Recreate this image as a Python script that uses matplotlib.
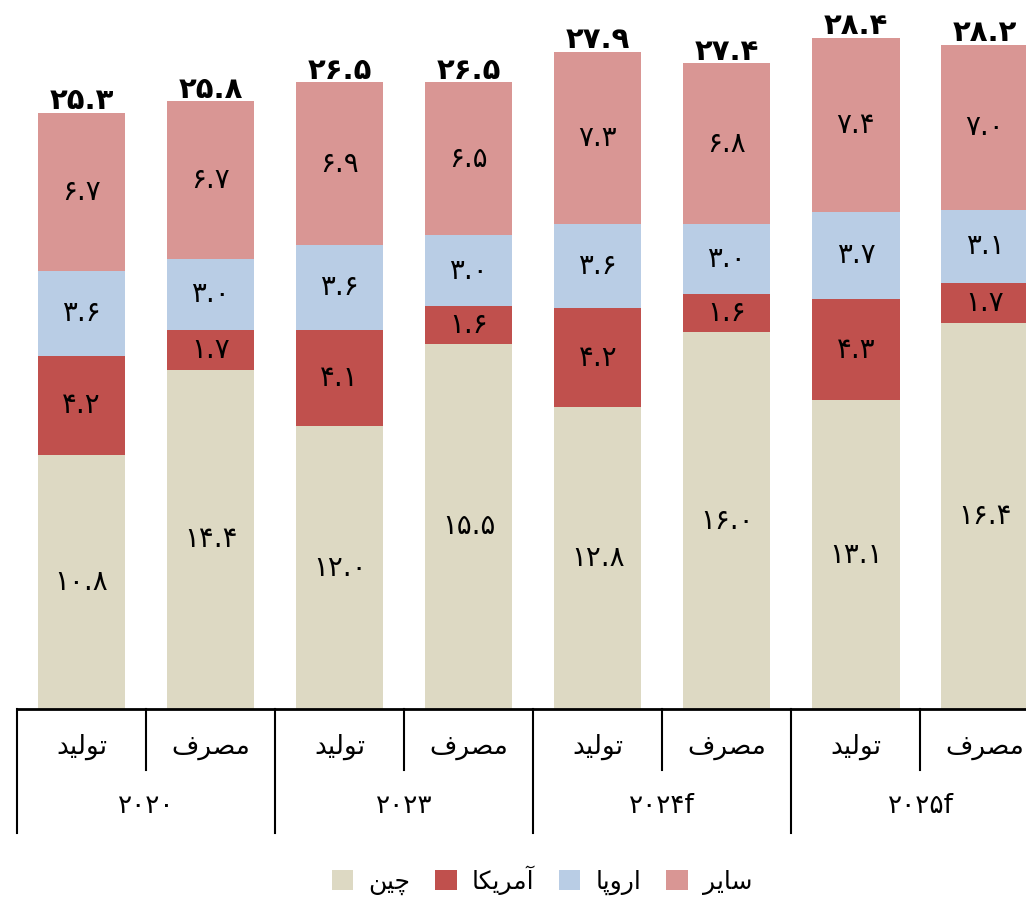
import matplotlib
matplotlib.use("Agg")
import matplotlib.pyplot as plt
from matplotlib.patches import Patch
from matplotlib.transforms import blended_transform_factory

# ---------------- data ----------------
years = ["2020", "2023", "2024f", "2025f"]
kinds = ["تولید", "مصرف"]  # production, consumption
series_names = ["چین", "آمریکا", "اروپا", "سایر"]
china   = [10.8, 14.4, 12.0, 15.5, 12.8, 16.0, 13.1, 16.4]
america = [4.2, 1.7, 4.1, 1.6, 4.2, 1.6, 4.3, 1.7]
europe  = [3.6, 3.0, 3.6, 3.0, 3.6, 3.0, 3.7, 3.1]
other   = [6.7, 6.7, 6.9, 6.5, 7.3, 6.8, 7.4, 7.0]
totals  = [25.3, 25.8, 26.5, 26.5, 27.9, 27.4, 28.4, 28.2]
colors = ["#DDD9C3", "#C0504D", "#B9CDE5", "#D99694"]

# ------------- Persian helpers -------------
FA_DIGITS = str.maketrans("0123456789", "۰۱۲۳۴۵۶۷۸۹")

def fa_num(s):
    return str(s).translate(FA_DIGITS)

# (isolated, final, initial, medial)
FORMS = {
    "ا": (0xFE8D, 0xFE8E, None, None),
    "آ": (0xFE81, 0xFE82, None, None),
    "ت": (0xFE95, 0xFE96, 0xFE97, 0xFE98),
    "و": (0xFEED, 0xFEEE, None, None),
    "ل": (0xFEDD, 0xFEDE, 0xFEDF, 0xFEE0),
    "ی": (0xFBFC, 0xFBFD, 0xFEF3, 0xFEF4),
    "د": (0xFEA9, 0xFEAA, None, None),
    "م": (0xFEE1, 0xFEE2, 0xFEE3, 0xFEE4),
    "ص": (0xFEB9, 0xFEBA, 0xFEBB, 0xFEBC),
    "ر": (0xFEAD, 0xFEAE, None, None),
    "ف": (0xFED1, 0xFED2, 0xFED3, 0xFED4),
    "چ": (0xFB7A, 0xFB7B, 0xFB7C, 0xFB7D),
    "ن": (0xFEE5, 0xFEE6, 0xFEE7, 0xFEE8),
    "ک": (0xFB8E, 0xFB8F, 0xFB90, 0xFB91),
    "پ": (0xFB56, 0xFB57, 0xFB58, 0xFB59),
    "س": (0xFEB1, 0xFEB2, 0xFEB3, 0xFEB4),
}

def shape(word):
    out = []
    n = len(word)
    for i, ch in enumerate(word):
        f = FORMS.get(ch)
        if f is None:
            out.append(ch)
            continue
        prev = word[i - 1] if i > 0 else None
        nxt = word[i + 1] if i < n - 1 else None
        join_prev = prev is not None and prev in FORMS and FORMS[prev][2] is not None
        join_next = nxt is not None and nxt in FORMS and f[2] is not None
        if join_prev and join_next:
            cp = f[3]
        elif join_prev:
            cp = f[1]
        elif join_next:
            cp = f[2]
        else:
            cp = f[0]
        out.append(chr(cp))
    return "".join(reversed(out))

# ---------------- figure ----------------
W, H = 1026, 897
fig = plt.figure(figsize=(W / 100, H / 100), dpi=100)
plt.rcParams["font.family"] = ["DejaVu Sans"]

ax_left = 17 / W
unit = 129.07 / W
ax_bottom = (H - 709) / H
ax = fig.add_axes([ax_left, ax_bottom, 8 * unit, 1 - ax_bottom])
ax.set_xlim(-0.5, 7.5)
ax.set_ylim(0, 709 / 23.56)

x = list(range(8))
bw = 0.675
layers = [china, america, europe, other]
bottoms = [0.0] * 8
for vals, col in zip(layers, colors):
    ax.bar(x, vals, bw, bottom=bottoms, color=col, edgecolor="none", zorder=2)
    for i in range(8):
        ax.text(x[i], bottoms[i] + vals[i] / 2, fa_num(f"{vals[i]:.1f}"),
                ha="center", va="center", fontsize=20, color="black", zorder=3)
    bottoms = [b + v for b, v in zip(bottoms, vals)]

for i in range(8):
    ax.text(x[i], bottoms[i] - 0.1, fa_num(f"{totals[i]:.1f}"), ha="center",
            va="bottom", fontsize=21, fontweight="bold", color="black")

for s in ax.spines.values():
    s.set_visible(False)
ax.set_xticks([])
ax.set_yticks([])

# axis line and dividers
tr = blended_transform_factory(ax.transData, fig.transFigure)
yax = (H - 709) / H
ax.plot([-0.5, 7.5], [yax, yax], transform=tr, color="black", lw=2, clip_on=False)
for k in range(9):
    xd = -0.5 + k
    if k % 2 == 0:
        y_end = (H - 833) / H
    else:
        y_end = (H - 770) / H
    ax.plot([xd, xd], [yax, y_end], transform=tr, color="black", lw=1.5, clip_on=False)

for i in range(8):
    ax.text(x[i], (H - 747) / H, shape(kinds[i % 2]), transform=tr, ha="center",
            va="center", fontsize=19, clip_on=False)
for j, yr in enumerate(years):
    ax.text(2 * j + 0.5, (H - 806) / H, fa_num(yr), transform=tr, ha="center",
            va="center", fontsize=19, clip_on=False)

handles = [Patch(facecolor=c, edgecolor="none") for c in colors]
labels = [shape(s) for s in series_names]
fig.legend(handles, labels, loc="center", bbox_to_anchor=(542 / W, (H - 880) / H),
           ncol=4, frameon=False, fontsize=18, handlelength=0.85, handleheight=0.85,
           columnspacing=1.0, handletextpad=0.6)

fig.savefig("out.png", dpi=100)
